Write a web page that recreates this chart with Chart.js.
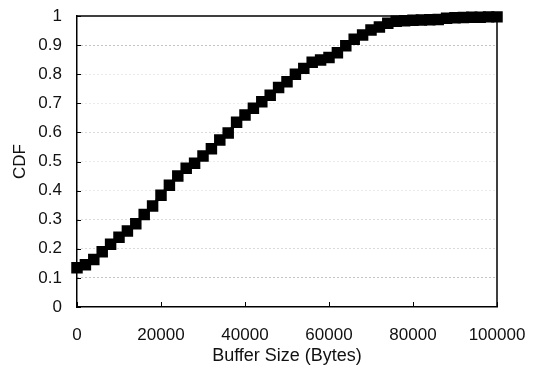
<!DOCTYPE html>
<html>
<head>
<meta charset="utf-8">
<title>Buffer Size CDF</title>
<script src="https://cdn.jsdelivr.net/npm/chart.js@4"></script>
<style>
  html, body { margin: 0; padding: 0; background: #fff; }
  canvas { display: block; }
</style>
</head>
<body>
<canvas id="cdfChart" width="535" height="368"></canvas>
<script>
// Buffer sizes (bytes) and cumulative fraction at each size
const bufferSizes = [
    0, 2000, 4000, 6000, 8000, 10000, 12000, 14000, 16000, 18000,
    20000, 22000, 24000, 26000, 28000, 30000, 32000, 34000, 36000, 38000,
    40000, 42000, 44000, 46000, 48000, 50000, 52000, 54000, 56000, 58000,
    60000, 62000, 64000, 66000, 68000, 70000, 72000, 74000, 76000, 78000,
    80000, 82000, 84000, 86000, 88000, 90000, 92000, 94000, 96000, 98000,
    100000
];
const cdfValues = [
    0.135, 0.145, 0.163, 0.190, 0.216, 0.240, 0.261, 0.286, 0.318, 0.347,
    0.384, 0.418, 0.450, 0.477, 0.494, 0.519, 0.544, 0.574, 0.598, 0.635,
    0.660, 0.683, 0.705, 0.728, 0.754, 0.774, 0.800, 0.820, 0.841, 0.849,
    0.857, 0.874, 0.898, 0.920, 0.935, 0.952, 0.962, 0.975, 0.982, 0.984,
    0.985, 0.986, 0.987, 0.988, 0.992, 0.994, 0.995, 0.996, 0.996, 0.997,
    0.997
];

const xTickLabels = ['0', '20000', '40000', '60000', '80000', '100000'];
const yTickLabels = ['0', '0.1', '0.2', '0.3', '0.4', '0.5', '0.6', '0.7', '0.8', '0.9', '1'];

const FONT = 'Liberation Sans, Arial, sans-serif';

// faint dotted grid, a bit darker on the 0.1 / 0.9 rows
function gridColor(ctx) {
    const v = Math.round(ctx.tick.value * 10);
    if (v === 0 || v === 10) return 'rgba(0,0,0,0)';
    if (v === 1 || v === 9) return '#888';
    if (v === 2 || v === 3 || v === 6) return '#b4b4b4';
    return '#d4d4d4';
}

// top/right frame plus short inward tick marks
const framePlugin = {
    id: 'frame',
    afterDraw(chart) {
        const { ctx, chartArea: a, scales } = chart;
        ctx.save();
        ctx.strokeStyle = '#000';
        ctx.lineWidth = 1.5;
        ctx.beginPath();
        ctx.moveTo(a.left, a.top);
        ctx.lineTo(a.right, a.top);
        ctx.lineTo(a.right, a.bottom);
        ctx.stroke();

        ctx.lineWidth = 1;
        ctx.beginPath();
        scales.y.ticks.forEach(t => {
            const y = Math.round(scales.y.getPixelForValue(t.value)) + 0.5;
            ctx.moveTo(a.left, y);
            ctx.lineTo(a.left + 4, y);
        });
        scales.x.ticks.forEach(t => {
            const x = Math.round(scales.x.getPixelForValue(t.value)) + 0.5;
            ctx.moveTo(x, a.bottom);
            ctx.lineTo(x, a.bottom - 5);
        });
        ctx.stroke();
        ctx.restore();
    }
};

new Chart(document.getElementById('cdfChart'), {
    type: 'line',
    data: {
        datasets: [{
            data: bufferSizes.map((x, i) => ({ x: x, y: cdfValues[i] })),
            borderColor: '#000',
            backgroundColor: '#000',
            borderWidth: 3,
            pointStyle: 'rect',
            pointRadius: 6,
            pointHoverRadius: 6,
            tension: 0,
            clip: false
        }]
    },
    options: {
        responsive: false,
        animation: false,
        events: [],
        layout: { padding: { top: 16, right: 38, left: 0, bottom: 0 } },
        plugins: {
            legend: { display: false },
            tooltip: { enabled: false }
        },
        scales: {
            x: {
                type: 'linear',
                min: 0,
                max: 100000,
                afterFit(scale) {
                    scale.height = 61;
                    scale.paddingLeft = 0;
                    scale.paddingRight = 0;
                },
                grid: { display: false, drawTicks: false },
                border: { color: '#000', width: 1.5 },
                ticks: {
                    stepSize: 20000,
                    padding: 18,
                    color: '#111',
                    font: { family: FONT, size: 17 },
                    maxRotation: 0,
                    callback: (v, i) => xTickLabels[i]
                },
                title: {
                    display: true,
                    text: 'Buffer Size (Bytes)',
                    color: '#111',
                    font: { family: FONT, size: 18 },
                    padding: { top: 0, bottom: 1 }
                }
            },
            y: {
                min: 0,
                max: 1,
                afterFit(scale) {
                    scale.width = 77;
                    scale.paddingTop = 0;
                    scale.paddingBottom = 0;
                },
                grid: { color: gridColor, lineWidth: 1, drawTicks: false },
                border: { color: '#000', width: 1.5, dash: [1, 3] },
                ticks: {
                    stepSize: 0.1,
                    padding: 15,
                    color: '#111',
                    font: { family: FONT, size: 17 },
                    callback: (v, i) => yTickLabels[i]
                },
                title: {
                    display: true,
                    text: 'CDF',
                    color: '#111',
                    font: { family: FONT, size: 17 },
                    padding: { top: 10, bottom: 0 }
                }
            }
        }
    },
    plugins: [framePlugin]
});
</script>
</body>
</html>
